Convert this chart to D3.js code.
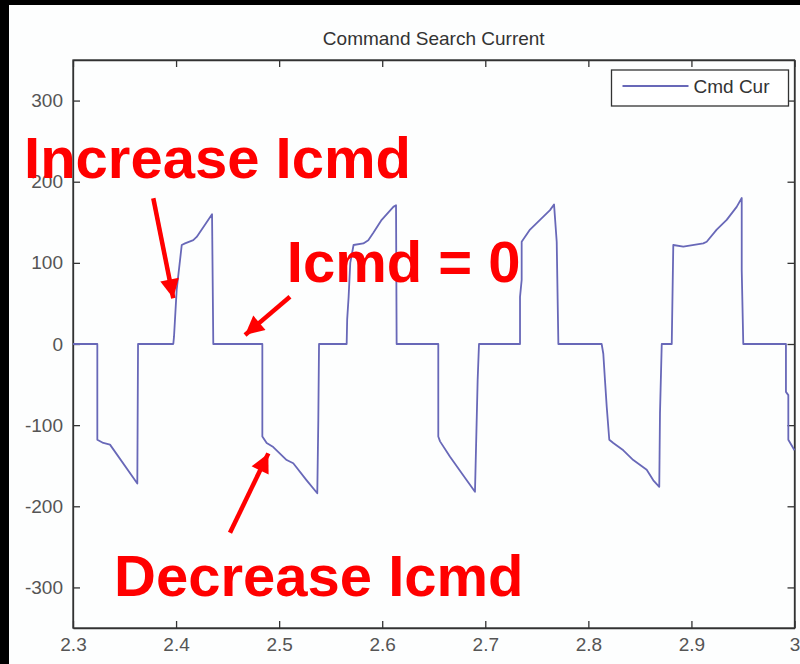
<!DOCTYPE html>
<html>
<head>
<meta charset="utf-8">
<script src="https://cdn.jsdelivr.net/npm/d3@7"></script>
<style>
  body { margin: 0; background: #000; }
  svg { display: block; }
</style>
</head>
<body>
<svg width="800" height="664"></svg>
<script>
// Command Search Current - matlab style plot, red notes on top

// time (s)
var time = [2.3, 2.3236, 2.3236, 2.3294, 2.3359, 2.3624, 2.3631, 2.3973, 2.398, 2.4006, 2.4055, 2.4087, 2.4167, 2.42, 2.4349, 2.4361,
  2.4837, 2.4837, 2.4879, 2.4943, 2.5073, 2.5137, 2.5267, 2.537, 2.538, 2.5387,
  2.5655, 2.566, 2.5674, 2.569, 2.5722, 2.5817, 2.5865, 2.5914, 2.5995, 2.6108, 2.6134, 2.614,
  2.6544, 2.6544, 2.6561, 2.6658, 2.6787, 2.69, 2.6926, 2.6939,
  2.7337, 2.7337, 2.7353, 2.7353, 2.7434, 2.7531, 2.7628, 2.7667, 2.7693, 2.7709,
  2.8129, 2.8145, 2.8161, 2.8178, 2.8203, 2.8242, 2.8339, 2.8436, 2.8566, 2.863, 2.8688, 2.8695, 2.8712,
  2.8809, 2.8824, 2.8921, 2.9115, 2.9148, 2.9245, 2.9342, 2.9439, 2.9488, 2.9488, 2.9503,
  2.9917, 2.9917, 2.994, 2.994, 3.0];
// command current
var cmdCur = [0, 0, -118, -122, -124, -172, 0, 0, 9, 67, 122, 124, 128, 132, 160, 0,
  0, -114, -122, -127, -143, -147, -168, -184, -94, 0,
  0, 30, 58, 100, 122, 124, 128, 137, 153, 169, 171, 0,
  0, -114, -120, -139, -162, -182, -44, 0,
  0, 58, 79, 126, 141, 153, 165, 172, 126, 0,
  0, -12, -44, -77, -118, -122, -131, -143, -155, -168, -176, -85, 0,
  0, 122, 120, 124, 126, 141, 153, 169, 180, 91, 0,
  0, -59, -63, -118, -131];

var xTicks = [2.3, 2.4, 2.5, 2.6, 2.7, 2.8, 2.9, 3];
var yTicks = [-300, -200, -100, 0, 100, 200, 300];

// red notes [t, value] in data units
var noteText = ["Increase Icmd", "Icmd = 0", "Decrease Icmd"];
var noteAt = [[2.2525, 204.7], [2.5075, 76.4], [2.3398, -310.7]];
var arrowFrom = [[2.3779, 179.7], [2.5105, 58.3], [2.4523, -232.7]];
var arrowTo = [[2.3973, 56.4], [2.4669, 11.1], [2.4895, -134.8]];

var svg = d3.select("svg");
var margin = {top: 60, right: 5.5, bottom: 36, left: 73},
    width = 800 - margin.left - margin.right,
    height = 664 - margin.top - margin.bottom;

// white sheet over the black border
svg.append("rect").attr("x", 9).attr("y", 5).attr("width", 791).attr("height", 659).attr("fill", "#fdfefe");

var g = svg.append("g").attr("transform", "translate(" + margin.left + "," + margin.top + ")");

var x = d3.scaleLinear().domain([2.3, 3.0]).range([0, width]);
var y = d3.scaleLinear().domain([-350, 350]).range([height, 0]);

var font = "'Liberation Sans', Arial, sans-serif";

//x axis
g.append("g")
    .attr("transform", "translate(0," + height + ")")
    .call(d3.axisBottom(x).tickValues(xTicks).tickSizeInner(-7).tickSizeOuter(0).tickPadding(10)
      .tickFormat(function(d) { return String(+d.toFixed(1)); }));
g.append("g")
    .call(d3.axisTop(x).tickValues(xTicks).tickSizeInner(-7).tickSizeOuter(0).tickFormat(""));
//y axis, plain hyphen for minus like matlab
g.append("g")
    .call(d3.axisLeft(y).tickValues(yTicks).tickSizeInner(-7).tickSizeOuter(0).tickPadding(10)
      .tickFormat(function(d) { return String(d); }));
g.append("g")
    .attr("transform", "translate(" + width + ",0)")
    .call(d3.axisRight(y).tickValues(yTicks).tickSizeInner(-7).tickSizeOuter(0).tickFormat(""));

g.selectAll(".domain").attr("stroke", "#333").attr("stroke-width", 1.3);
g.selectAll(".tick line").attr("stroke", "#333").attr("stroke-width", 1.3);
g.selectAll(".tick text").attr("font-family", font).attr("font-size", 19).attr("fill", "#555");

// frame
g.append("rect").attr("width", width).attr("height", height)
    .attr("fill", "none").attr("stroke", "#333").attr("stroke-width", 1.3);

// title
svg.append("text")
    .attr("x", margin.left + width / 2).attr("y", 45)
    .attr("text-anchor", "middle")
    .attr("font-family", font).attr("font-size", 19).attr("fill", "#333")
    .text("Command Search Current");

// the signal
var line = d3.line()
    .x(function(d, i) { return x(time[i]); })
    .y(function(d) { return y(d); });
g.append("path")
    .datum(cmdCur)
    .attr("fill", "none")
    .attr("stroke", "#6868b8")
    .attr("stroke-width", 1.8)
    .attr("stroke-linejoin", "round")
    .attr("d", line);

// legend
var lg = g.append("g").attr("transform", "translate(" + (width - 183) + ",10)");
lg.append("rect").attr("width", 177).attr("height", 36)
    .attr("fill", "#fff").attr("stroke", "#333").attr("stroke-width", 1.3);
lg.append("line").attr("x1", 11).attr("x2", 77).attr("y1", 16).attr("y2", 16)
    .attr("stroke", "#6868b8").attr("stroke-width", 1.8);
lg.append("text").attr("x", 82).attr("y", 16).attr("dy", "0.35em")
    .attr("font-family", font).attr("font-size", 19).attr("fill", "#333")
    .text("Cmd Cur");

// red notes
svg.append("defs").append("marker")
    .attr("id", "head").attr("viewBox", "0 0 10 10")
    .attr("refX", 10).attr("refY", 5)
    .attr("markerWidth", 5.4).attr("markerHeight", 4.2)
    .attr("markerUnits", "strokeWidth")
    .attr("orient", "auto")
  .append("path").attr("d", "M0,0L10,5L0,10z").attr("fill", "#ff0000");

g.selectAll(".arrow")
    .data(arrowFrom)
    .enter().append("line")
    .attr("class", "arrow")
    .attr("x1", function(d) { return x(d[0]); })
    .attr("y1", function(d) { return y(d[1]); })
    .attr("x2", function(d, i) { return x(arrowTo[i][0]); })
    .attr("y2", function(d, i) { return y(arrowTo[i][1]); })
    .attr("stroke", "#ff0000")
    .attr("stroke-width", 4.5)
    .attr("marker-end", "url(#head)");

g.selectAll(".note")
    .data(noteText)
    .enter().append("text")
    .attr("class", "note")
    .attr("x", function(d, i) { return x(noteAt[i][0]); })
    .attr("y", function(d, i) { return y(noteAt[i][1]); })
    .attr("font-family", font).attr("font-weight", "bold").attr("font-size", 58)
    .attr("fill", "#ff0000")
    .text(function(d) { return d; });
</script>
</body>
</html>
